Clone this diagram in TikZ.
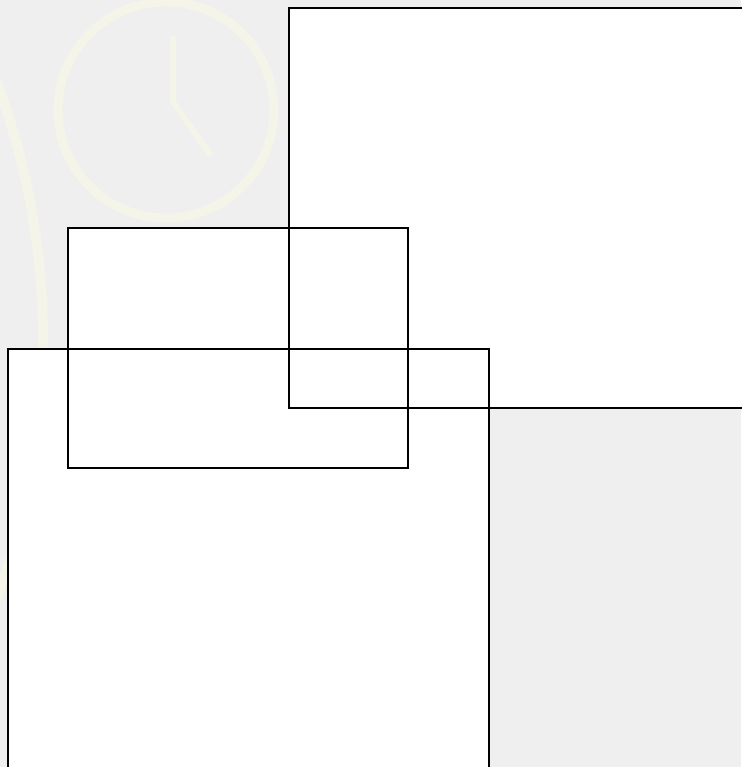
\documentclass[tikz,border=0pt]{standalone}
\usepackage{tikz}
\usetikzlibrary{arrows.meta}
\usepackage[dvipsnames,svgnames,x11names]{xcolor}

\definecolor{fons}{HTML}{EFEFEF}
\definecolor{marca}{HTML}{F5F4E9}

\begin{document}
\begin{tikzpicture}[x=1pt, y=-1pt, line join=miter]

\useasboundingbox (0,0) rectangle (741,767);

% Fons
\fill[fons] (0,0) rectangle (741,767);

% Rellotge de fons
\draw[
    line width=9pt,
    marca
] (166,110) circle (108);

\draw[
    line width=6pt,
    marca
] (173,36) -- (173,102) -- (211,156);

% Arc gran de fons
\draw[
    line width=10pt,
    marca
] (-695,340) circle (738);

% Interiors blancs
\fill[white] (289,8) rectangle (750,408);
\fill[white] (68,228) rectangle (408,468);
\fill[white] (8,349) rectangle (489,780);

% Rectangle gran
\draw[
    line width=2.4pt,
    black
] (289,8) rectangle (750,408);

% Rectangle del mig
\draw[
    line width=2.4pt,
    black
] (68,228) rectangle (408,468);

% Rectangle de baix
\draw[
    line width=2.4pt,
    black
] (8,349) rectangle (489,780);

\end{tikzpicture}
\end{document}
